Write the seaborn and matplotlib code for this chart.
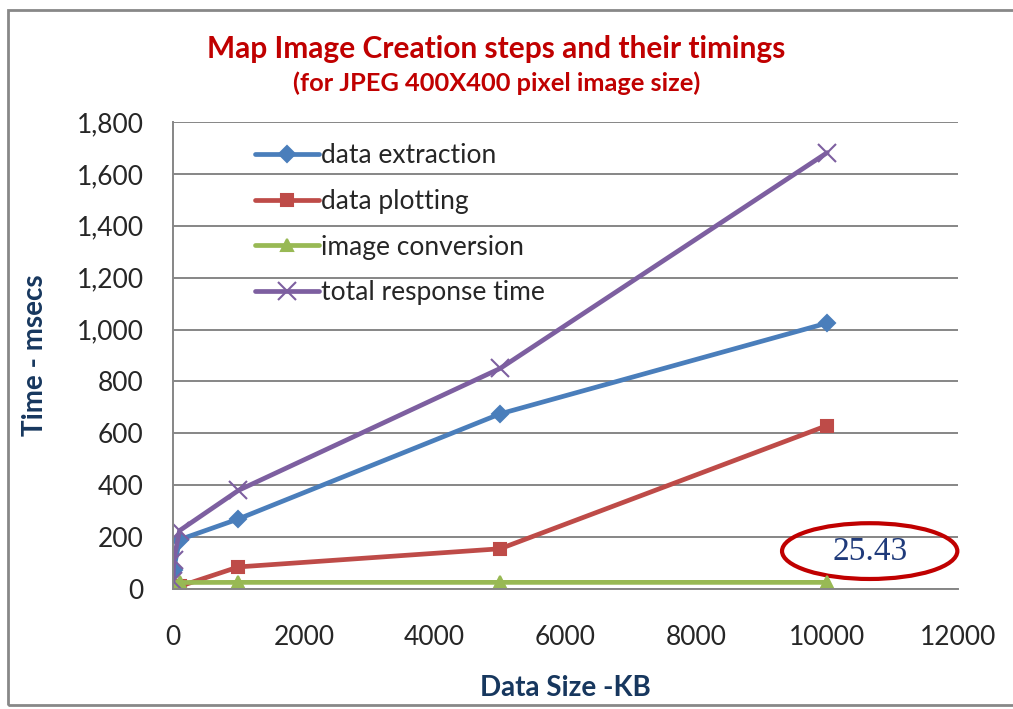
import pandas as pd
import seaborn as sns
import matplotlib.pyplot as plt
from matplotlib.patches import Ellipse, Rectangle
from matplotlib.ticker import FuncFormatter

# values (msecs per data size in KB)
data_size = [1, 10, 100, 1000, 5000, 10000]
extraction = [10, 75, 190, 270, 675, 1025]
plotting = [2, 5, 10, 85, 155, 630]
conversion = [20, 24, 25, 25.43, 25.43, 25.43]
total = [30, 110, 225, 380, 850, 1682]

series_names = ['data extraction', 'data plotting', 'image conversion', 'total response time']
series_colors = ['#4A7EBB', '#BE4B48', '#98B954', '#7D5FA0']
series_markers = ['D', 's', '^', 'x']
series_msize = [8, 9, 9, 13]

y_ticks = [0, 200, 400, 600, 800, 1000, 1200, 1400, 1600, 1800]
x_ticks = [0, 2000, 4000, 6000, 8000, 10000, 12000]
highlight_value = '25.43'

df = pd.DataFrame({
    'size': data_size * 4,
    'time': extraction + plotting + conversion + total,
    'step': sum([[n] * len(data_size) for n in series_names], []),
})

sns.set_style("white")
plt.rcParams['font.family'] = ['Lato', 'DejaVu Sans']

fig = plt.figure(figsize=(10.13, 7.09), dpi=100)
ax = fig.add_axes([0.1708, 0.1693, 0.7749, 0.6586])

for name, col, mk, ms in zip(series_names, series_colors, series_markers, series_msize):
    sns.lineplot(data=df[df['step'] == name], x='size', y='time', color=col,
                 marker=mk, markersize=ms, markeredgewidth=1.5, markeredgecolor=col,
                 sort=False, linewidth=3.4, label=name, ax=ax)

ax.set_xlim(0, 12000)
ax.set_ylim(0, 1800)
ax.set_xticks(x_ticks)
ax.set_yticks(y_ticks)
ax.yaxis.set_major_formatter(FuncFormatter(lambda v, p: f'{int(v):,}'))
ax.grid(axis='y', color='#868686', linewidth=1.4)
ax.set_axisbelow(True)
for s in ['top', 'right']:
    ax.spines[s].set_visible(False)
for s in ['left', 'bottom']:
    ax.spines[s].set_color('#868686')
    ax.spines[s].set_linewidth(1.4)
ax.tick_params(axis='y', length=5, color='#868686', labelsize=19, pad=16)
ax.tick_params(axis='x', length=0, labelsize=19, pad=26)

ax.set_xlabel('Data Size -KB', fontsize=20, fontweight='bold', color='#17375E')
ax.set_ylabel('Time - msecs', fontsize=20, fontweight='bold', color='#17375E')
ax.xaxis.label.set_va('center')
ax.yaxis.label.set_va('center')
ax.xaxis.set_label_coords(0.4994, -0.212)
ax.yaxis.set_label_coords(-0.176, 0.50)

leg = ax.legend(loc='upper left', bbox_to_anchor=(0.0745, 1.005), frameon=False,
                fontsize=19, handlelength=2.4, handletextpad=0.1, labelspacing=0.78)

fig.text(0.49, 0.931, 'Map Image Creation steps and their timings', ha='center', va='center',
         fontsize=21.5, fontweight='bold', color='#C00000')
fig.text(0.49, 0.883, '(for JPEG 400X400 pixel image size)', ha='center', va='center',
         fontsize=18.3, fontweight='bold', color='#C00000')

# highlighted conversion time
ax.text(10650, 144, highlight_value, ha='center', va='center', fontsize=24,
        family='Liberation Serif', color='#1F3A7A')
ax.add_patch(Ellipse((10650, 146), 2680, 215, fill=False, edgecolor='#C00000',
                     linewidth=3, clip_on=False))

# outer chart border
fig.add_artist(Rectangle((0.008, 0.006), 1.0, 0.98, transform=fig.transFigure,
                         fill=False, edgecolor='#888888', linewidth=2))

fig.savefig('out.png', dpi=100)
